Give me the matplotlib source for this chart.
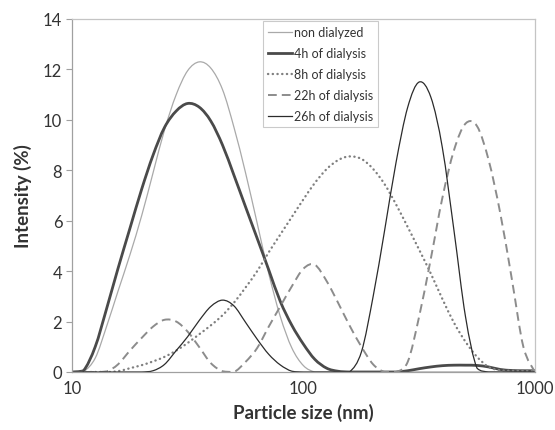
import numpy as np
import matplotlib
matplotlib.use("Agg")
import matplotlib.pyplot as plt
from matplotlib.path import Path
from matplotlib.patches import PathPatch
from matplotlib.lines import Line2D

# Particle size bins (nm), log-spaced from 10 to 1000 nm
size_nm = [10.0, 11.2, 12.6, 14.1, 15.8, 17.8, 20.0, 22.4, 25.1, 28.2,
           31.6, 35.5, 39.8, 44.7, 50.1, 56.2, 63.1, 70.8, 79.4, 89.1,
           100.0, 112.0, 126.0, 141.0, 158.0, 178.0, 200.0, 224.0, 251.0, 282.0,
           316.0, 355.0, 398.0, 447.0, 501.0, 562.0, 631.0, 708.0, 794.0, 891.0,
           1000.0]

# Intensity distributions (%)
non_dialyzed = [0, 0.02, 0.55, 1.8, 3.2, 4.65, 6.2, 7.9, 9.6, 11.0,
                11.95, 12.3, 12.05, 11.2, 9.7, 7.9, 5.9, 3.9, 2.2, 0.95,
                0.25, 0, 0, 0, 0, 0, 0, 0, 0, 0,
                0, 0, 0, 0, 0, 0, 0, 0, 0, 0, 0]
dialysis_4h = [0, 0.05, 1.0, 2.5, 4.1, 5.7, 7.25, 8.6, 9.7, 10.35,
               10.65, 10.5, 9.95, 9.0, 7.8, 6.55, 5.3, 4.05, 2.8, 1.85,
               1.1, 0.5, 0.15, 0.03, 0, 0, 0, 0, 0, 0.05,
               0.13, 0.2, 0.25, 0.27, 0.27, 0.26, 0.2, 0.1, 0.06, 0.05, 0.05]
dialysis_8h = [0, 0, 0, 0, 0.03, 0.15, 0.27, 0.42, 0.6, 0.85,
               1.15, 1.5, 1.85, 2.25, 2.75, 3.35, 4.0, 4.75, 5.45, 6.15,
               6.85, 7.5, 8.05, 8.4, 8.55, 8.45, 8.05, 7.45, 6.65, 5.75,
               4.85, 3.9, 2.9, 1.95, 1.2, 0.6, 0.2, 0.07, 0.05, 0.05, 0.03]
dialysis_22h = [0, 0, 0, 0.02, 0.3, 0.85, 1.35, 1.8, 2.07, 2.0,
                1.6, 0.98, 0.35, 0.03, 0, 0.4, 0.95, 1.8, 2.6, 3.4,
                4.1, 4.25, 3.6, 2.75, 1.85, 1.0, 0.3, 0, 0, 0.4,
                2.2, 4.5, 6.9, 8.8, 9.85, 9.75, 8.4, 6.3, 3.7, 1.0, 0]
dialysis_26h = [0, 0, 0, 0, 0, 0, 0, 0.05, 0.3, 0.85,
                1.4, 2.05, 2.6, 2.85, 2.62, 1.97, 1.3, 0.7, 0.28, 0.03,
                0, 0, 0, 0, 0, 0.8, 3.0, 5.6, 8.3, 10.5,
                11.5, 10.9, 8.9, 5.6, 2.2, 0.15, 0, 0, 0, 0, 0]

series_labels = ["non dialyzed", "4h of dialysis", "8h of dialysis",
                 "22h of dialysis", "26h of dialysis"]


def smooth_path(x, y):
    """Smoothed line through the points (Catmull-Rom as cubic Bezier),
    built in log10(x) so it stays smooth on a log axis."""
    lx = np.log10(np.asarray(x, float))
    y = np.asarray(y, float)
    n = len(lx)
    verts = [(x[0], y[0])]
    codes = [Path.MOVETO]
    for i in range(n - 1):
        i0 = max(i - 1, 0)
        i3 = min(i + 2, n - 1)
        c1x = lx[i] + (lx[i + 1] - lx[i0]) / 6.0
        c1y = y[i] + (y[i + 1] - y[i0]) / 6.0
        c2x = lx[i + 1] - (lx[i3] - lx[i]) / 6.0
        c2y = y[i + 1] - (y[i3] - y[i]) / 6.0
        verts += [(10 ** c1x, max(c1y, 0.0)), (10 ** c2x, max(c2y, 0.0)),
                  (x[i + 1], y[i + 1])]
        codes += [Path.CURVE4] * 3
    return Path(verts, codes)


plt.rcParams['font.family'] = ['Lato', 'DejaVu Sans']

fig = plt.figure(figsize=(5.55, 4.31), dpi=100)
ax = fig.add_axes([0.1297, 0.1346, 0.8342, 0.8190])

styles = [
    dict(color="#a9a9a9", linewidth=0.9, linestyle="-"),
    dict(color="#4a4a4a", linewidth=2.0, linestyle="-"),
    dict(color="#808080", linewidth=1.7, linestyle=(0, (0.1, 1.9)),
         capstyle="round"),
    dict(color="#8c8c8c", linewidth=1.4, linestyle=(0, (4.5, 2.6))),
    dict(color="#2b2b2b", linewidth=0.9, linestyle="-"),
]
all_series = [non_dialyzed, dialysis_4h, dialysis_8h, dialysis_22h, dialysis_26h]

handles = []
for vals, st, lab in zip(all_series, styles, series_labels):
    patch = PathPatch(smooth_path(size_nm, vals), fill=False,
                      edgecolor=st["color"], linewidth=st["linewidth"],
                      linestyle=st["linestyle"],
                      capstyle=st.get("capstyle", "butt"), joinstyle="round")
    ax.add_patch(patch)
    h = Line2D([], [], color=st["color"], linewidth=st["linewidth"],
               linestyle=st["linestyle"],
               dash_capstyle=st.get("capstyle", "butt"))
    handles.append(h)

ax.set_xscale("log")
ax.set_xlim(10, 1000)
ax.set_ylim(0, 14)
ax.set_xticks([10, 100, 1000])
ax.set_xticklabels(["10", "100", "1000"])
ax.xaxis.set_minor_locator(matplotlib.ticker.NullLocator())
ax.set_yticks(range(0, 15, 2))

for s in ax.spines.values():
    s.set_color("#c4c4c4")
    s.set_linewidth(0.9)
ax.spines["bottom"].set_color("#a0a0a0")
ax.spines["left"].set_color("#a0a0a0")

ax.tick_params(axis="y", length=4, width=0.8, color="#a0a0a0",
               labelsize=12, labelcolor="#333333", pad=3)
ax.tick_params(axis="x", length=0, labelsize=12, labelcolor="#333333", pad=6)

ax.set_xlabel("Particle size (nm)", fontsize=13.5, fontweight="bold",
              color="#333333", labelpad=5)
ax.set_ylabel("Intensity (%)", fontsize=13.5, fontweight="bold",
              color="#333333", labelpad=8)

leg = ax.legend(handles, series_labels, loc="upper left",
                bbox_to_anchor=(0.4125, 0.994), fontsize=9.0,
                frameon=True, fancybox=False, handlelength=1.95,
                handletextpad=0.12, borderpad=0.4, labelspacing=0.72,
                borderaxespad=0.0)
leg.get_frame().set_edgecolor("#bdbdbd")
leg.get_frame().set_linewidth(0.8)
for t in leg.get_texts():
    t.set_color("#333333")

fig.savefig("out.png", dpi=100)
